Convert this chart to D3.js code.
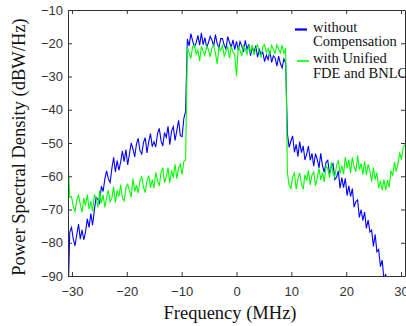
<!DOCTYPE html>
<html>
<head>
<meta charset="utf-8">
<script src="https://cdn.jsdelivr.net/npm/d3@7/dist/d3.min.js"></script>
<style>
body { margin: 0; background: #fff; }
</style>
</head>
<body>
<div id="psdChart"></div>
<script>
// frequency grid (MHz), one value per bin
var fStart = -30.72, fStep = 0.32;

// PSD without compensation (dBW/Hz)
var withoutComp = [
  -98, -76.8, -75.4, -78.8, -80.9, -77.6, -74.4, -78.9, -76.1, -79.1,
  -76.7, -72.8, -75.4, -71.2, -74.7, -70.3, -66.3, -66.9, -68.1, -63.0,
  -64.6, -60.8, -58.4, -60.8, -61.9, -57.6, -54.3, -58.7, -55.3, -58.2,
  -55.7, -52.4, -55.6, -52.0, -56.6, -53.3, -50.0, -51.8, -54.2, -50.3,
  -48.6, -52.3, -53.3, -49.9, -48.4, -53.0, -49.6, -47.2, -51.1, -49.6,
  -51.2, -47.2, -45.6, -49.3, -50.9, -46.9, -48.3, -45.0, -50.5, -46.4,
  -45.1, -49.2, -46.3, -43.2, -47.8, -48.1, -42.6, -40.5,
  -18.7, -20.8, -17.1, -19.3, -21.1, -19.9, -17.6, -20.6, -16.9, -20.4,
  -18.3, -21.3, -19.8, -17.9, -19.0, -20.9, -17.4, -20.2, -21.4, -18.6,
  -18.6, -20.6, -21.7, -18.0, -19.7, -21.2, -19.0, -21.9, -19.4,
  -22.1, -19.5, -20.8, -22.6, -19.1, -21.8, -20.3,
  -23.7, -21.1, -22.9, -20.7, -24.2, -21.9, -23.4,
  -22.7, -25.5, -23.6, -24.9, -22.3, -25.8, -23.8,
  -24.4, -26.9, -23.9, -26.1, -27.4, -24.7, -26.0,
  -47.2, -51.3, -49.4, -47.9, -52.8,
  -50.4, -54.1, -49.6, -52.9, -50.9, -55.1, -53.3, -50.9, -55.2, -53.1,
  -57.0, -53.2, -54.9, -57.5, -53.1, -56.9, -58.8, -55.8, -55.2, -59.2,
  -57.1, -56.2, -61.0, -60.3, -58.4, -63.6, -60.4, -63.4, -60.6, -65.8,
  -62.9, -66.1, -63.7, -69.3, -67.6, -67.1, -72.4, -70.0, -73.3, -70.8,
  -75.7, -73.2, -76.8, -76.2, -81.1, -77.5, -82.7, -82.0, -87.2, -85.2,
  -91.0, -89.4, -93.8, -93.0, -97.2, -96.4, -101, -100, -105, -104,
  -108, -110, -112
];

// PSD with unified FDE and BNLC (dBW/Hz)
var withUnified = [
  -55.0, -66.3, -66.1, -69.2, -70.6, -67.2, -65.7, -68.4, -70.9, -66.6,
  -68.8, -65.5, -69.9, -67.5, -70.6, -65.7, -66.4, -69.4, -64.3, -68.1,
  -65.6, -69.4, -66.4, -64.2, -67.7, -66.6, -63.1, -67.9, -64.3, -66.1,
  -62.6, -66.5, -67.4, -63.5, -62.4, -64.3, -66.3, -60.7, -64.6, -62.7,
  -65.1, -61.5, -60.0, -63.4, -64.9, -61.4, -59.8, -63.4, -61.0, -63.6,
  -58.8, -61.4, -62.9, -58.9, -57.4, -61.9, -60.2, -57.5, -62.0, -58.2,
  -60.5, -56.4, -60.7, -57.6, -56.4, -59.5, -55.5, -55.2,
  -21.2, -22.8, -24.6, -21.0, -20.5, -23.3, -22.1, -25.4, -20.9, -22.4,
  -23.6, -20.8, -21.9, -24.1, -21.4, -20.6, -23.0, -26.2, -21.3, -22.2,
  -20.7, -23.8, -22.4, -21.1, -24.5, -20.9, -22.6, -23.4, -30.0,
  -21.0, -22.2, -23.6, -20.7, -21.8, -23.3, -20.9,
  -22.6, -20.6, -23.4, -21.5, -20.5, -22.9, -24.1,
  -21.0, -20.4, -22.8, -21.6, -23.5, -20.7, -21.9,
  -23.1, -20.5, -21.8, -22.9, -20.6, -23.2, -21.4,
  -59.0, -62.7, -63.7, -60.1, -59.0,
  -63.9, -60.8, -59.0, -62.3, -63.9, -59.5, -61.3, -58.2, -62.6, -59.7,
  -58.7, -62.8, -60.7, -57.6, -61.1, -58.9, -61.7, -56.9, -57.7, -60.5,
  -55.7, -59.1, -60.3, -56.7, -55.4, -59.2, -56.8, -59.4, -54.2, -57.5,
  -55.1, -59.0, -54.3, -57.1, -58.6, -53.8, -58.0, -56.2, -59.5, -55.5,
  -59.7, -56.4, -58.3, -61.6, -57.4, -61.0, -58.9, -63.6, -61.4, -64.2,
  -61.0, -64.2, -61.2, -63.4, -58.3, -59.8, -55.7, -58.6, -56.2, -52.9,
  -55.0, -51.1, -50.6
];

var xTicks = [-30, -20, -10, 0, 10, 20, 30];
var yTicks = [-90, -80, -70, -60, -50, -40, -30, -20, -10];
var legendLabels = [["without", "Compensation"], ["with Unified", "FDE and BNLC"]];

// set the dimensions of the plot box
var width = 406, height = 326;
var box = {left: 68, right: 405, top: 10, bottom: 276};

var svg = d3.select("#psdChart")
  .append("svg")
    .attr("width", width)
    .attr("height", height);

var x = d3.scaleLinear()
  .domain([fStart, fStart + fStep * (withoutComp.length - 1)])
  .range([box.left, box.right]);

var y = d3.scaleLinear()
  .domain([-90, -10])
  .range([box.bottom, box.top]);

svg.append("clipPath")
    .attr("id", "plotClip")
  .append("rect")
    .attr("x", box.left)
    .attr("y", box.top)
    .attr("width", box.right - box.left)
    .attr("height", box.bottom - box.top);

// draw the two spectra, blue first so green sits on top
var line = d3.line()
  .x(function(d, i) { return x(fStart + fStep * i); })
  .y(function(d) { return y(d); });

svg.append("path")
  .datum(withoutComp)
  .attr("clip-path", "url(#plotClip)")
  .attr("fill", "none")
  .attr("stroke", "#0000ff")
  .attr("stroke-width", 1.1)
  .attr("d", line);

svg.append("path")
  .datum(withUnified)
  .attr("clip-path", "url(#plotClip)")
  .attr("fill", "none")
  .attr("stroke", "#00ff00")
  .attr("stroke-width", 1.1)
  .attr("d", line);

// axes on all four sides, ticks pointing in
var axisColor = "#333";

var gBottom = svg.append("g")
  .attr("transform", "translate(0," + box.bottom + ")")
  .call(d3.axisBottom(x).tickValues(xTicks).tickSizeInner(-4).tickSizeOuter(0).tickPadding(11));

var gTop = svg.append("g")
  .attr("transform", "translate(0," + box.top + ")")
  .call(d3.axisTop(x).tickValues(xTicks).tickSizeInner(-4).tickSizeOuter(0).tickFormat(""));

var gLeft = svg.append("g")
  .attr("transform", "translate(" + box.left + ",0)")
  .call(d3.axisLeft(y).tickValues(yTicks).tickSizeInner(-4).tickSizeOuter(0).tickPadding(5));

var gRight = svg.append("g")
  .attr("transform", "translate(" + box.right + ",0)")
  .call(d3.axisRight(y).tickValues(yTicks).tickSizeInner(-4).tickSizeOuter(0).tickFormat(""));

[gBottom, gTop, gLeft, gRight].forEach(function(g) {
  g.selectAll("path, line").attr("stroke", axisColor).attr("stroke-width", 1);
  g.selectAll("text")
    .attr("fill", axisColor)
    .style("font-family", "'Liberation Sans', Arial, sans-serif")
    .style("font-size", "13px");
});

// axis titles
svg.append("text")
  .attr("x", 230)
  .attr("y", 319)
  .attr("text-anchor", "middle")
  .style("font-family", "'Liberation Serif', 'Times New Roman', serif")
  .style("font-size", "18.5px")
  .attr("fill", "#111")
  .text("Frequency (MHz)");

svg.append("text")
  .attr("transform", "translate(25,147) rotate(-90)")
  .attr("text-anchor", "middle")
  .style("font-family", "'Liberation Serif', 'Times New Roman', serif")
  .style("font-size", "18.5px")
  .attr("fill", "#111")
  .text("Power Spectral Density (dBW/Hz)");

// legend
var legendColors = ["#0000ff", "#33ff33"];
var legendTop = [31.5, 63];

legendLabels.forEach(function(lab, i) {
  svg.append("line")
    .attr("x1", 295 + i * 2).attr("x2", 307 + i * 2)
    .attr("y1", legendTop[i] - 2).attr("y2", legendTop[i] - 2)
    .attr("stroke", legendColors[i])
    .attr("stroke-width", 2.2);

  var t = svg.append("text")
    .attr("x", 313)
    .attr("y", legendTop[i])
    .style("font-family", "'Liberation Serif', 'Times New Roman', serif")
    .style("font-size", "14.5px")
    .attr("fill", "#111");
  t.append("tspan").attr("x", 313).text(lab[0]);
  t.append("tspan").attr("x", 313).attr("dy", 14.5).text(lab[1]);
});
</script>
</body>
</html>
